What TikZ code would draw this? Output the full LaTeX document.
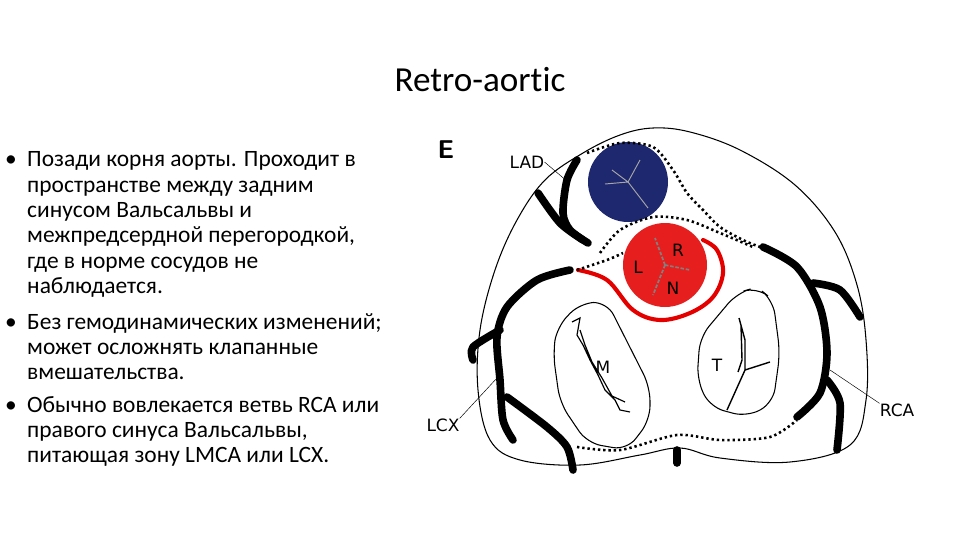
\documentclass[tikz,border=0pt]{standalone}
\usepackage{fontspec}
\setmainfont{Carlito}
\newfontfamily\vfont{DejaVu Sans}
\begin{document}
\begin{tikzpicture}[x=0.03cm,y=-0.03cm,
  btxt/.style={anchor=base west,inner sep=0,font=\fontsize{20}{22}\selectfont},
  lbl/.style={inner sep=0,font=\vfont\fontsize{14.5}{15}\selectfont},
  vessel/.style={line width=6.5pt,line cap=round,line join=round},
  dots/.style={line width=2.2pt,dash pattern=on 2pt off 2.5pt},
  thin/.style={line width=0.9pt}]
\useasboundingbox (0,0) rectangle (960,540);
\node[inner sep=0,font=\fontsize{30}{32}\selectfont] (title) at (480,80) {Retro-aor\hbox{t}ic};
\foreach \y/\t/\b in {167/{Позади корня аорты. Проходит в}/1,192/{пространстве между задним}/0,218/{синусом Вальсальвы и}/0,243/{межпредсердной перегородкой,}/0,268/{где в норме сосудов не}/0,293/{наблюдается.}/0,329/{Без гемодинамических изменений;}/1,354/{может осложнять клапанные}/0,379/{вмешательства.}/0,412/{Обычно вовлекается ветвь RCA или}/1,437/{правого синуса Вальсальвы,}/0,462/{питающая зону LMCA или LCX.}/0}{
  \node[btxt] at (27,\y) {\t};
  \ifnum\b=1 \node[btxt] at (5,\y) {•};\fi
}
% outer
\draw[thin] plot[smooth cycle,tension=0.6] coordinates {(517,220)(545,180)(583,153)(620,135)(653,128)(690,132)(740,150)(795,185)(835,232)(857,285)(866,340)(866,400)(850,445)(790,462)(720,458)(680,448)(640,455)(580,465)(520,460)(490,440)(478,390)(480,330)(495,270)};
% circles
\fill[fill={rgb,255:red,30;green,40;blue,110}] (628,182) circle (40);
\draw[gray!70,line width=0.8pt] (628,182)--(612,170) (628,182)--(640,160) (628,182)--(648,208) (628,182)--(605,184);
\fill[fill={rgb,255:red,230;green,30;blue,30}] (665,265) circle (42);
\draw[gray,line width=1.5pt,dash pattern=on 3pt off 1.5pt] (665,265)--(655,238) (665,265)--(690,270) (665,265)--(653,295);
\draw[red!90!black,line width=3.5pt,line cap=round] plot[smooth,tension=0.6] coordinates {(578,270)(607,280)(633,310)(660,320)(690,313)(713,297)(723,273)(717,250)(703,240)};
% valves
\draw[thin,rounded corners=12pt] (557,327)--(580,303)--(607,302)--(650,387)--(650,420)--(627,450)--(587,443)--(560,403)--(553,353)--cycle;
\draw[thin,rounded corners=12pt] (700,337)--(737,293)--(757,287)--(773,300)--(780,353)--(773,403)--(747,417)--(710,407)--(697,380)--cycle;
\draw[line width=1pt] (572,322)--(580,318)--(577,335)--(583,345)--(590,360)--(598,375)--(605,390)--(615,400)--(620,410)--(630,412) (580,330)--(585,345)--(592,362)--(602,378)--(612,396)--(625,402);
\draw[line width=1.2pt] (739,318)--(745,340)--(745,370)--(727,410) (745,370)--(770,362) (741,325)--(742,360)--(738,372);
% vessels
\draw[vessel] plot[smooth] coordinates {(577,160)(567,180)(563,213)(570,230)(588,243)};
\draw[vessel] plot[smooth] coordinates {(538,193)(560,223)(583,240)};
\draw[vessel] plot[smooth] coordinates {(570,270)(537,280)(507,307)(497,337)(500,380)(503,420)(513,440)};
\draw[vessel] plot[smooth] coordinates {(473,360)(473,347)(500,330)};
\draw[vessel] plot[smooth] coordinates {(507,397)(547,427)(567,447)(573,470)};
\draw[vessel] plot[smooth] coordinates {(763,247)(797,267)(820,307)(827,353)(820,393)(797,417)};
\draw[vessel] plot[smooth] coordinates {(813,283)(840,290)(860,317)};
\draw[vessel] plot[smooth] coordinates {(827,380)(840,403)(837,450)};
\draw[vessel] (677,450)--(677,463);
% dotted
\draw[dots] plot[smooth] coordinates {(577,447)(620,450)(677,435)(720,440)(770,437)(797,420)};
\draw[dots] plot[smooth] coordinates {(587,153)(620,143)(653,147)(673,170)(687,193)(703,210)(720,227)(743,240)(760,247)};
\draw[dots] plot[smooth] coordinates {(600,253)(620,230)(653,217)(687,220)(720,233)(753,247)};
\draw[dots] plot[smooth] coordinates {(577,270)(607,260)(623,253)};
% labels
\node[font=\fontsize{22}{22}\selectfont\bfseries\sffamily] (E) at (446,150) {E};
\node[lbl] (R) at (678,250) {R};
\node[lbl] (L) at (638,267) {L};
\node[lbl] (N) at (673,288) {N};
\node[lbl] (M) at (603,367) {M};
\node[lbl] (T) at (717,365) {T};
\node[lbl] (LAD) at (527,162) {LAD};
\node[lbl] (LCX) at (443,425) {LCX};
\node[lbl] (RCA) at (897,410) {RCA};
\coordinate (lade) at (568,182);
\coordinate (lcxe) at (497,378);
\coordinate (rcae) at (830,370);
\draw[line width=0.4pt] (LAD.east)--(lade) (LCX.north east)--(lcxe) (RCA.north west)--(rcae);
\end{tikzpicture}
\end{document}
